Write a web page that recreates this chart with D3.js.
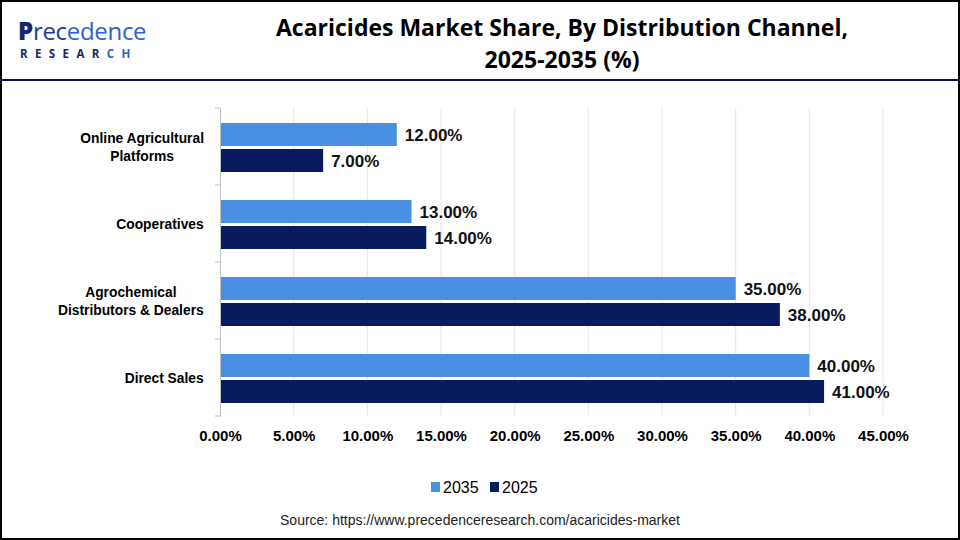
<!DOCTYPE html>
<html><head><meta charset="utf-8">
<script src="https://cdn.jsdelivr.net/npm/d3@7"></script>
<style>body{margin:0;background:#fff}svg{display:block}</style>
</head><body><svg id="c" width="960" height="540"></svg>
<script>
const categories = ["Online Agricultural Platforms","Cooperatives","Agrochemical Distributors & Dealers","Direct Sales"];
const categoryLines = [["Online Agricultural","Platforms"],["Cooperatives"],["Agrochemical","Distributors & Dealers"],["Direct Sales"]];
const seriesNames = ["2035","2025"];
const values2035 = [12,13,35,40];
const values2025 = [7,14,38,41];
const xTicks = [0,5,10,15,20,25,30,35,40,45];
const colors = ["#4A90E2","#0A1A5E"];

const svg = d3.select("#c");
// frame
svg.append("rect").attr("x",1).attr("y",1).attr("width",958).attr("height",538).attr("fill","none").attr("stroke","#000").attr("stroke-width",2);
svg.append("line").attr("x1",0).attr("x2",960).attr("y1",80).attr("y2",80).attr("stroke","#0A1440").attr("stroke-width",2);

// logo
const logo = svg.append("g");
const t1 = logo.append("text").attr("x",18).attr("y",40).attr("font-family","'Open Sans', sans-serif").attr("font-size",24).attr("font-weight",400).attr("letter-spacing",-0.3);
t1.append("tspan").attr("fill","#17256B").attr("font-weight",800).text("P");
t1.append("tspan").attr("fill","#1C3C92").text("rec");
t1.append("tspan").attr("fill","#2A62C9").text("edence");
const t2 = logo.append("text").attr("x",20).attr("y",58).attr("font-family","'Open Sans', sans-serif").attr("font-size",11.5).attr("font-weight",700).attr("letter-spacing",7.4);
t2.append("tspan").attr("fill","#17256B").text("RESEAR");
t2.append("tspan").attr("fill","#2A62C9").text("CH");

// title
svg.append("text").attr("x",562).attr("y",36).attr("text-anchor","middle").attr("font-family","'Open Sans', Arial, sans-serif").attr("font-weight",700).attr("font-size",23).attr("fill","#000").text("Acaricides Market Share, By Distribution Channel,");
svg.append("text").attr("x",562).attr("y",68).attr("text-anchor","middle").attr("font-family","'Open Sans', Arial, sans-serif").attr("font-weight",700).attr("font-size",23).attr("fill","#000").text("2025-2035 (%)");

const x = d3.scaleLinear().domain([0,45]).range([220,883]);
const y = d3.scaleBand().domain(categories).range([108,416]).paddingInner(0).paddingOuter(0);
const barH = 23, barGap = 3, barOff = 15;
const inner = d3.scaleOrdinal().domain(seriesNames).range([barOff, barOff+barH+barGap]);

// gridlines
svg.append("g").selectAll("line").data(xTicks.slice(1)).join("line")
  .attr("x1",d=>x(d)).attr("x2",d=>x(d)).attr("y1",108).attr("y2",416)
  .attr("stroke","#E6E6E6").attr("stroke-width",1);

// x axis labels
const xAxis = d3.axisBottom(x).tickValues(xTicks).tickSize(0).tickFormat(d=>d.toFixed(2)+"%");
const gx = svg.append("g").attr("transform","translate(0,427)").call(xAxis);
gx.select(".domain").remove();
gx.selectAll("text").attr("font-family","'Liberation Sans Narrow', 'Arial Narrow', sans-serif").attr("font-weight",700).attr("font-size",15).attr("fill","#000");

// y axis
const yAxis = d3.axisLeft(y).tickSize(0).tickFormat("");
const gy = svg.append("g").attr("transform","translate(220,0)").call(yAxis);
gy.select(".domain").attr("stroke","#BFBFBF");
const bounds = categories.map(c=>y(c)).concat([y.range()[1]]);
svg.append("g").selectAll("line").data(bounds).join("line")
  .attr("x1",215).attr("x2",220).attr("y1",d=>d).attr("y2",d=>d).attr("stroke","#BFBFBF");

// category labels
categories.forEach((c,i)=>{
  const lines = categoryLines[i];
  const cy = y(c)+y.bandwidth()/2;
  const t = svg.append("text").attr("class","cat").attr("text-anchor","middle").attr("font-family","'Liberation Sans', Arial, sans-serif").attr("font-weight",700).attr("font-size",13.8).attr("fill","#000");
  const lh = 18;
  lines.forEach((l,j)=>{
    t.append("tspan").attr("x",142).attr("y",cy + (j-(lines.length-1)/2)*lh + 5).text(l);
  });
});
svg.selectAll("text.cat").each(function(){
  const bb = this.getBBox();
  const shift = 204 - (bb.x+bb.width);
  d3.select(this).attr("transform",`translate(${shift},0)`);
});

// bars
const series = [values2035, values2025];
series.forEach((vals,si)=>{
  const g = svg.append("g");
  g.selectAll("rect").data(vals).join("rect")
    .attr("x",x(0)+1)
    .attr("y",(d,i)=>y(categories[i])+inner(seriesNames[si]))
    .attr("width",d=>x(d)-x(0)-1)
    .attr("height",barH)
    .attr("fill",colors[si]);
  g.selectAll("text").data(vals).join("text")
    .attr("x",d=>x(d)+8)
    .attr("y",(d,i)=>y(categories[i])+inner(seriesNames[si])+barH/2+6)
    .attr("font-family","'Liberation Sans', Arial, sans-serif").attr("font-weight",700).attr("font-size",17).attr("fill","#111")
    .text(d=>d.toFixed(2)+"%");
});

// legend
const lg = svg.append("g").attr("transform","translate(431,487)");
seriesNames.forEach((s,i)=>{
  const ox = i*59;
  lg.append("rect").attr("x",ox).attr("y",-5).attr("width",9).attr("height",10).attr("fill",colors[i]);
  lg.append("text").attr("x",ox+12).attr("y",5.5).attr("font-family","'Liberation Sans Narrow', 'Arial Narrow', sans-serif").attr("font-weight",400).attr("font-size",16).attr("fill","#000").text(s);
});

// source
svg.append("text").attr("x",480).attr("y",525).attr("text-anchor","middle").attr("font-family","'Liberation Sans', Arial, sans-serif").attr("font-size",14).attr("fill","#222").text("Source: https://www.precedenceresearch.com/acaricides-market");
</script></body></html>
